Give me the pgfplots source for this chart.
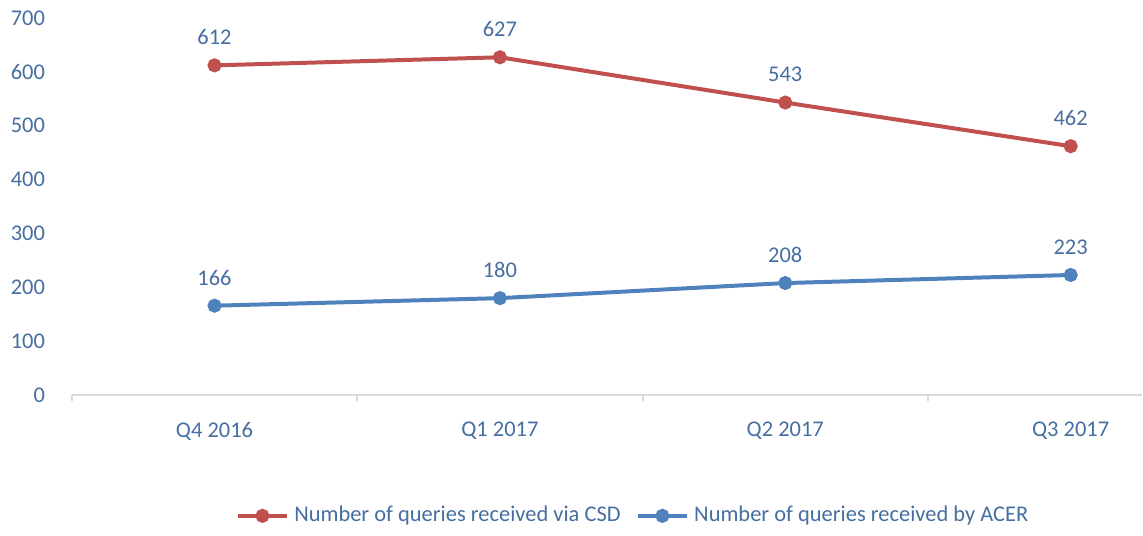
\documentclass[border=0pt]{standalone}
\usepackage{pgfplots}
\pgfplotsset{compat=1.18}
\usepackage{fontspec}
\setmainfont{Carlito}
\definecolor{csdred}{RGB}{192,80,77}
\definecolor{acerblue}{RGB}{79,129,189}
\definecolor{txtblue}{RGB}{70,110,160}
\definecolor{axgray}{RGB}{217,217,217}
\begin{document}
\begin{tikzpicture}
\begin{axis}[
  x=114.4pt, y=0.216pt,
  xmin=-0.5, xmax=3.25,
  ymin=0, ymax=700,
  axis x line=bottom, axis y line=left,
  axis line style={-},
  x axis line style={draw=axgray, line width=0.8pt},
  y axis line style={draw=none},
  xtick={0,1,2,3},
  xticklabels={Q4 2016,Q1 2017,Q2 2017,Q3 2017},
  minor xtick={-0.5,0.5,1.5,2.5},
  major x tick style={draw=none},
  minor x tick style={draw=axgray, line width=0.8pt},
  minor tick length=2.4pt,
  tick align=outside,
  ytick={0,100,...,700},
  ytick style={draw=none},
  /pgf/number format/assume math mode=true,
  tick label style={font=\fontsize{9}{10}\selectfont, text=txtblue},
  yticklabel style={xshift=-3pt},
  xticklabel style={yshift=-3pt},
  clip=false,
  nodes near coords,
  every node near coord/.append style={font=\fontsize{9}{10}\selectfont, text=txtblue, anchor=center, yshift=11.2pt},
  legend style={at={(0.5257,-0.32)}, anchor=center, draw=none, legend columns=2,
    font=\fontsize{9}{10}\selectfont, text=txtblue,
    /tikz/every even column/.append style={column sep=4pt}},
  legend cell align=left,
  legend image code/.code={
    \draw[#1, mark=none] (0cm,0cm) -- (0.7cm,0cm);
    \fill[#1] (0.35cm,0cm) circle (2pt);
  },
]
\addplot[csdred, line width=1.6pt, mark=*, mark size=2pt] coordinates {
  (0,612) (1,627) (2,543) (3,462)
};
\addlegendentry{Number of queries received via CSD}
\addplot[acerblue, line width=1.6pt, mark=*, mark size=2pt] coordinates {
  (0,166) (1,180) (2,208) (3,223)
};
\addlegendentry{Number of queries received by ACER}
\coordinate (bl) at (rel axis cs:0,0);
\coordinate (tr) at (rel axis cs:1,1);
\end{axis}
\useasboundingbox ([shift={(-28.8pt,-52.4pt)}]bl) rectangle ([shift={(0pt,7.2pt)}]tr);
\end{tikzpicture}
\end{document}
